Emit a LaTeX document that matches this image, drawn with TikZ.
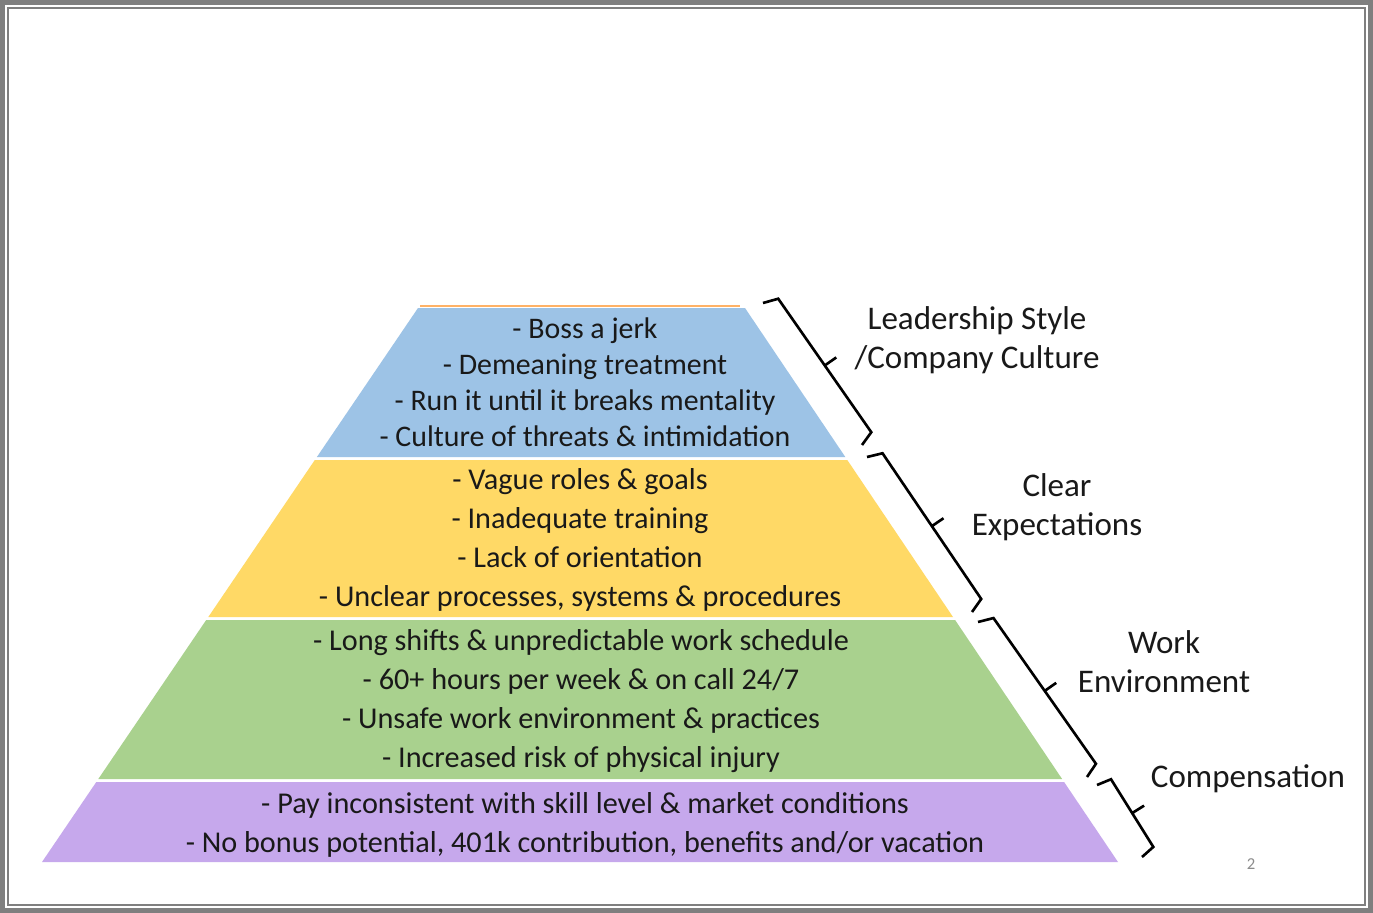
\documentclass[tikz,border=0pt]{standalone}
\usepackage{fontspec}
\setmainfont{Carlito}
\usetikzlibrary{calc}
\definecolor{tierblue}{HTML}{9DC3E6}
\definecolor{tieryellow}{HTML}{FFD966}
\definecolor{tiergreen}{HTML}{A9D18E}
\definecolor{tierpurple}{HTML}{C6A8EC}
\definecolor{frame}{HTML}{7F7F7F}
\newcommand\sidebrace[2]{%
  \draw[bracestroke] (#1) -- ($(#1)!0.03!(#2)!8.5pt!90:(#2)$)
    -- ($(#1)!0.5!(#2)!8.5pt!90:(#2)$) -- ($(#1)!0.5!(#2)!16.5pt!90:(#2)$)
    -- ($(#1)!0.5!(#2)!8.5pt!90:(#2)$) -- ($(#1)!0.97!(#2)!8.5pt!90:(#2)$) -- (#2);}
\begin{document}
\begin{tikzpicture}[x=0.02cm,y=-0.02cm,inner sep=0pt,
  tiertext/.style={align=center,text=black!90,font=\fontsize{17.2}{22.1}\selectfont},
  sidelabel/.style={align=center,text=black!90,font=\fontsize{18.8}{22.1}\selectfont},
  bracestroke/.style={line width=1.5pt,line join=miter}]
	\useasboundingbox (0,0) rectangle (1373,913);
	% slide frame
	\fill[frame] (0,0) rectangle (1373,913);
	\fill[white] (5,5) rectangle (1368,908);
	\fill[frame] (7,7) rectangle (1366,906);
	\fill[white] (9,9) rectangle (1364,904);
	% pyramid tiers
	\draw[orange!60,line width=0.6pt] (420,306) -- (740,306);
	\fill[tierblue]   (418,308) -- (745,308) -- (845.3,457) -- (316.9,457) -- cycle;
	\fill[tieryellow] (314.8,460) -- (847.3,460) -- (953,617) -- (208.3,617) -- cycle;
	\fill[tiergreen]  (206.2,620) -- (955.1,620) -- (1062.1,779) -- (98.3,779) -- cycle;
	\fill[tierpurple] (96.3,782) -- (1064.1,782) -- (1118,862) -- (42,862) -- cycle;
	\node[tiertext,font=\fontsize{17}{20.4}\selectfont] (culture) at (585,382)
	  {- Boss a jerk\\- Demeaning treatment\\- Run it until it breaks mentality\\- Culture of threats \& intimidation};
	\node[tiertext] (expect) at (580,540)
	  {- Vague roles \& goals\\- Inadequate training\\- Lack of orientation\\- Unclear processes, systems \& procedures};
	\node[tiertext] (environ) at (581,701)
	  {- Long shifts \& unpredictable work schedule\\- 60+ hours per week \& on call 24/7\\- Unsafe work environment \& practices\\- Increased risk of physical injury};
	\node[tiertext] (pay) at (585,825)
	  {- Pay inconsistent with skill level \& market conditions\\- No bonus potential, 401k contribution, benefits and/or vacation};
	% braces along the right side
	\coordinate (b1s) at (763,303);  \coordinate (b1e) at (862,445);
	\coordinate (b2s) at (867,457);  \coordinate (b2e) at (972,612);
	\coordinate (b3s) at (978,622);  \coordinate (b3e) at (1087,777);
	\coordinate (b4s) at (1097,785); \coordinate (b4e) at (1142,857);
	\sidebrace{b1s}{b1e}
	\sidebrace{b2s}{b2e}
	\sidebrace{b3s}{b3e}
	\sidebrace{b4s}{b4e}
	\node[sidelabel] (lead) at (977,340) {Leadership Style\\/Company Culture};
	\node[sidelabel] (clear) at (1057,507) {Clear\\Expectations};
	\node[sidelabel] (work) at (1164,662) {Work\\Environment};
	\node[sidelabel] (comp) at (1248,779) {Compensation};
	\node[text=black!45,font=\fontsize{9.5}{11}\selectfont] (pagenum) at (1251,864) {2};
\end{tikzpicture}
\end{document}
